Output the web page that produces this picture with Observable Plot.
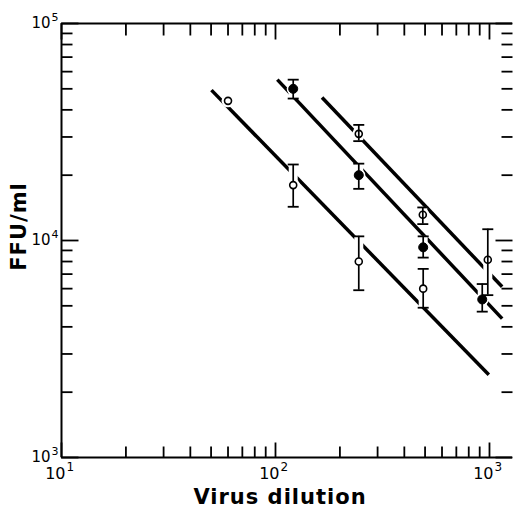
<!DOCTYPE html>
<html>
<head>
<meta charset="utf-8">
<script src="https://cdn.jsdelivr.net/npm/d3@7"></script>
<script src="https://cdn.jsdelivr.net/npm/@observablehq/plot@0.6"></script>
<style>
  html, body { margin: 0; padding: 0; background: #fff; }
  #chart svg { display: block; }
</style>
</head>
<body>
<div id="chart"></div>
<script>
// ---- Data ----
// Series A: open circles (lowest line)
const aX    = [60, 121, 245, 490];
const aY    = [44000, 18000, 8000, 6000];
const aLow  = [null, 14300, 5900, 4900];
const aHigh = [null, 22400, 10450, 7400];
// Series B: filled circles (middle line)
const bX    = [121, 245, 490, 925];
const bY    = [50000, 20000, 9300, 5350];
const bLow  = [45100, 17300, 8340, 4700];
const bHigh = [55100, 22600, 10450, 6300];
// Series C: open circles with bar through (upper line)
const cX    = [245, 488, 982];
const cY    = [31000, 13150, 8150];
const cLow  = [28700, 11900, 5600];
const cHigh = [34100, 14200, 11270];
// Fitted lines (endpoints)
const lineSeries = ["A", "B", "C"];
const lineX1 = [50.2, 102, 165];
const lineY1 = [49300, 55100, 45600];
const lineX2 = [993, 1146, 1146];
const lineY2 = [2405, 4365, 6120];
// Ticks
const xMajor = [10, 100, 1000];
const xMinor = [20,30,40,50,60,70,80,90,200,300,400,500,600,700,800,900];
const yMajor = [1000, 10000, 100000];
const yMinor = [2000,3000,4000,5000,6000,7000,8000,9000,20000,30000,40000,50000,60000,70000,80000,90000];
const xTitle = "Virus dilution";
const yTitle = "FFU/ml";

// ---- Tables ----
const rows = (s, X, Y, L, H) => X.map((x, i) => ({series: s, x, y: Y[i], lo: L[i], hi: H[i]}));
const A = rows("A", aX, aY, aLow, aHigh);
const B = rows("B", bX, bY, bLow, bHigh);
const C = rows("C", cX, cY, cLow, cHigh);
const allPts = [...A, ...B, ...C];
const withErr = allPts.filter(d => d.lo != null);
const lines = lineSeries.map((s, i) => ({s, x1: lineX1[i], y1: lineY1[i], x2: lineX2[i], y2: lineY2[i]}));

const xMin = 10, xMax = 1281, yMin = 1000, yMax = 100000;

// symbols: r (pixels) is the half-width / length
const capSymbol = {draw(c, s) { const w = Math.sqrt(s / Math.PI); c.moveTo(-w, 0); c.lineTo(w, 0); }};
const tickUp    = {draw(c, s) { const l = Math.sqrt(s / Math.PI); c.moveTo(0, 0); c.lineTo(0, -l); }};
const tickDown  = {draw(c, s) { const l = Math.sqrt(s / Math.PI); c.moveTo(0, 0); c.lineTo(0, l); }};
const tickRight = {draw(c, s) { const l = Math.sqrt(s / Math.PI); c.moveTo(0, 0); c.lineTo(l, 0); }};
const tickLeft  = {draw(c, s) { const l = Math.sqrt(s / Math.PI); c.moveTo(0, 0); c.lineTo(-l, 0); }};

const tickFont = "DejaVu Sans, sans-serif";
const titleFont = "DejaVu Sans, sans-serif";
const tw = 1.8;
const tk = (data, sym, r, xf, yf) => Plot.dot(data, {x: xf, y: yf, symbol: sym, r, fill: "none", stroke: "black", strokeWidth: tw});

const chart = Plot.plot({
  width: 513,
  height: 511,
  marginLeft: 61,
  marginTop: 23,
  marginRight: 1,
  marginBottom: 54,
  x: {type: "log", domain: [xMin, xMax], axis: null},
  y: {type: "log", domain: [yMin, yMax], axis: null},
  style: {fontFamily: tickFont, color: "black", background: "white"},
  marks: [
    // axis lines: left, top, bottom (right edge falls off the picture)
    Plot.ruleX([xMin], {x: d => d, stroke: "black", strokeWidth: 2}),
    Plot.ruleY([yMin, yMax], {y: d => d, stroke: "black", strokeWidth: 2}),
    // inward ticks
    tk(xMinor, tickUp, 11, d => d, () => yMin),
    tk(xMajor, tickUp, 15, d => d, () => yMin),
    tk(xMinor, tickDown, 12, d => d, () => yMax),
    tk(xMajor, tickDown, 16, d => d, () => yMax),
    tk(yMinor, tickRight, 11, () => xMin, d => d),
    tk(yMajor, tickRight, 17, () => xMin, d => d),
    tk(yMinor, tickLeft, 11, () => xMax, d => d),
    tk(yMajor, tickLeft, 17, () => xMax, d => d),
    // tick labels (10 with superscript exponent)
    Plot.text(yMajor, {x: () => xMin, y: d => d, text: () => "10", textAnchor: "end", dx: -11, fontSize: 15, fontFamily: tickFont}),
    Plot.text(yMajor, {x: () => xMin, y: d => d, text: d => String(Math.round(Math.log10(d))), textAnchor: "start", dx: -10, dy: -6, fontSize: 11, fontFamily: tickFont}),
    Plot.text(xMajor, {x: d => d, y: () => yMin, text: () => "10", textAnchor: "end", dx: 4, dy: 16, fontSize: 16, fontFamily: tickFont}),
    Plot.text(xMajor, {x: d => d, y: () => yMin, text: d => String(Math.round(Math.log10(d))), textAnchor: "start", dx: 5, dy: 10, fontSize: 12, fontFamily: tickFont}),
    // titles
    Plot.text([xTitle], {frameAnchor: "bottom", text: d => d, textAnchor: "middle", lineAnchor: "middle", dx: -7, dy: 40, fontSize: 21, fontWeight: "bold", fontFamily: titleFont}),
    Plot.text([yTitle], {frameAnchor: "left", text: d => d, textAnchor: "middle", lineAnchor: "middle", rotate: -90, dx: -42, dy: -14, fontSize: 21, fontWeight: "bold", fontFamily: titleFont}),
    // fitted lines
    Plot.link(lines, {x1: "x1", y1: "y1", x2: "x2", y2: "y2", stroke: "black", strokeWidth: 3.5}),
    // white halos make the gaps in the lines around points
    Plot.ruleX(withErr, {x: "x", y1: "lo", y2: "hi", stroke: "white", strokeWidth: 9}),
    Plot.dot(allPts, {x: "x", y: "y", r: 6.5, fill: "white", stroke: "none"}),
    // error bars
    Plot.ruleX(A.filter(d => d.lo != null), {x: "x", y1: "lo", y2: "hi", stroke: "black", strokeWidth: 1.7}),
    Plot.ruleX(B, {x: "x", y1: "lo", y2: "hi", stroke: "black", strokeWidth: 1.7}),
    Plot.dot(withErr, {x: "x", y: "lo", symbol: capSymbol, r: 5.5, fill: "none", stroke: "black", strokeWidth: 1.8}),
    Plot.dot(withErr, {x: "x", y: "hi", symbol: capSymbol, r: 5.5, fill: "none", stroke: "black", strokeWidth: 1.8}),
    // markers
    Plot.dot(A, {x: "x", y: "y", r: 3.5, fill: "white", stroke: "black", strokeWidth: 1.6}),
    Plot.dot(B, {x: "x", y: "y", r: 4.5, fill: "black", stroke: "black", strokeWidth: 1}),
    Plot.dot(C, {x: "x", y: "y", r: 3.5, fill: "white", stroke: "black", strokeWidth: 1.6}),
    Plot.ruleX(C, {x: "x", y1: "lo", y2: "hi", stroke: "black", strokeWidth: 1.7})
  ]
});
// widen the titles' letter spacing like the lettering of the original
d3.select(chart).selectAll("text").filter(function () {
  const t = this.textContent;
  return t === xTitle || t === yTitle;
}).attr("letter-spacing", "1");
document.getElementById("chart").appendChild(chart);
</script>
</body>
</html>
